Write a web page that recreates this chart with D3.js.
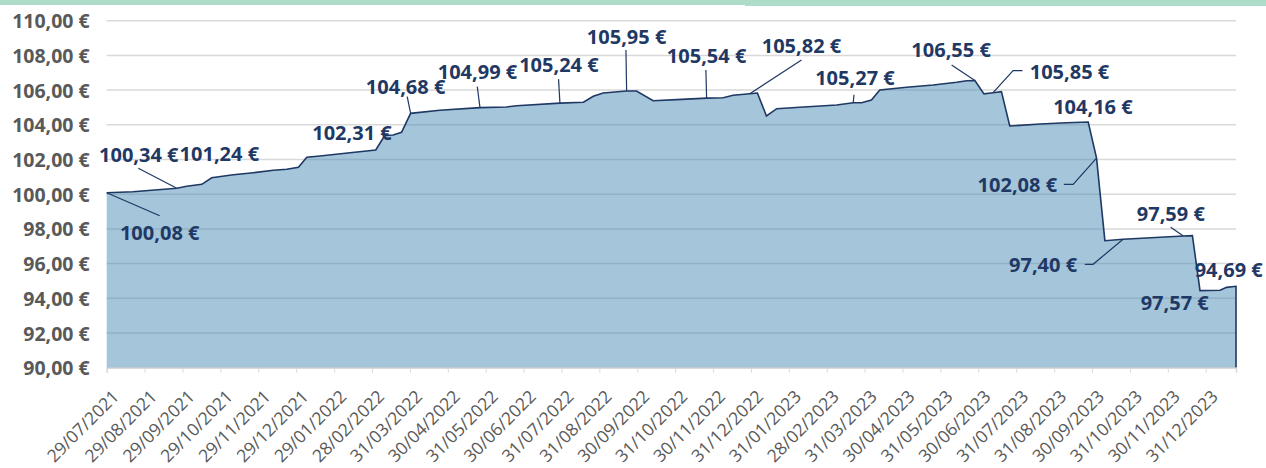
<!DOCTYPE html>
<meta charset="utf-8">
<style>
body { margin: 0; background: #fff; font-family: "Open Sans", sans-serif; }
.grid line { stroke: #d9d9d9; stroke-width: 1.5px; }
.yaxis text { fill: #595959; font-family: "Open Sans", sans-serif; font-size: 19.5px; font-weight: 700; }
.xaxis text { fill: #595959; font-family: "Open Sans", sans-serif; font-size: 17.5px; }
.xaxis line { stroke: #d9d9d9; }
.area { fill: #3d83b0; fill-opacity: 0.47; }
.line { fill: none; stroke: #1f3864; stroke-width: 1.6px; }
.leader { fill: none; stroke: #1f3864; stroke-width: 1.2px; }
.lbl { fill: #1f3864; font-family: "Open Sans", sans-serif; font-size: 20px; font-weight: 700; }
</style>
<body>
<script src="https://cdn.jsdelivr.net/npm/d3@7"></script>
<script>
// position of each point in months after 29/07/2021, and the price
var monthPos = [0, 0.69, 1.85, 2.11, 2.51, 2.77, 3.34, 3.87, 4.40, 4.75,
  5.06, 5.28, 5.63, 6.42, 7.10, 7.34, 7.56, 7.78, 8.02, 8.79,
  9.85, 10.55, 10.82, 11.96, 12.58, 12.84, 13.10, 13.72, 13.98, 14.42,
  15.04, 15.83, 16.27, 16.53, 16.97, 17.17, 17.41, 17.68, 18.29, 19.26,
  19.70, 19.92, 20.18, 20.40, 21.11, 21.81, 22.43, 22.69, 22.91, 23.15,
  23.39, 23.61, 23.83, 24.63, 25.33, 25.90, 26.12, 26.34, 26.82, 28.41,
  28.65, 28.85, 29.38, 29.55, 29.80];
var prices = [100.08, 100.14, 100.34, 100.46, 100.57, 100.95, 101.12, 101.24, 101.38, 101.44,
  101.55, 102.13, 102.20, 102.39, 102.55, 103.39, 103.41, 103.57, 104.66, 104.84,
  104.99, 105.03, 105.10, 105.25, 105.30, 105.64, 105.83, 105.95, 105.95, 105.39,
  105.45, 105.54, 105.56, 105.70, 105.79, 105.83, 104.51, 104.93, 105.01, 105.14,
  105.27, 105.27, 105.43, 106.01, 106.16, 106.29, 106.45, 106.54, 106.55, 105.78,
  105.85, 105.91, 103.93, 104.05, 104.12, 104.16, 102.08, 97.32, 97.40, 97.59,
  97.61, 94.44, 94.46, 94.63, 94.69];

var tickLabels = ["29/07/2021", "29/08/2021", "29/09/2021", "29/10/2021", "29/11/2021",
  "29/12/2021", "29/01/2022", "28/02/2022", "31/03/2022", "30/04/2022", "31/05/2022",
  "30/06/2022", "31/07/2022", "31/08/2022", "30/09/2022", "31/10/2022", "30/11/2022",
  "31/12/2022", "31/01/2023", "28/02/2023", "31/03/2023", "30/04/2023", "31/05/2023",
  "30/06/2023", "31/07/2023", "31/08/2023", "30/09/2023", "31/10/2023", "30/11/2023",
  "31/12/2023"];

// data labels: which point they belong to and their text
var labelIdx = [0, 2, 7, 13, 18, 20, 23, 27, 31, 34, 40, 48, 50, 55, 56, 58, 59, 61, 64];
var labelText = ["100,08 €", "100,34 €", "101,24 €", "102,31 €", "104,68 €", "104,99 €",
  "105,24 €", "105,95 €", "105,54 €", "105,82 €", "105,27 €", "106,55 €", "105,85 €",
  "104,16 €", "102,08 €", "97,40 €", "97,59 €", "97,57 €", "94,69 €"];
// label placement (offset of text centre from point) and leader line bends
var labelPlace = [
  {dx: 53, dy: 40, lead: [[53, 23]]},
  {dx: -38, dy: -34, lead: [[-38.5, -20]]},
  {dx: -34, dy: -19, lead: []},
  {dx: 2, dy: -20, lead: []},
  {dx: -5, dy: -27, lead: [[-3.4, -16.7]]},
  {dx: -2.5, dy: -36, lead: [[-2.7, -21]]},
  {dx: -1, dy: -38, lead: [[-1.4, -24]]},
  {dx: 0, dy: -54.4, lead: [[-0.7, -41]]},
  {dx: 0, dy: -42, lead: [[-0.7, -28]]},
  {dx: 51.7, dy: -47.7, lead: [[51.7, -33.7]]},
  {dx: 1.7, dy: -25, lead: [[0.7, -8]]},
  {dx: -23.8, dy: -30.6, lead: [[-23.3, -15.6]]},
  {dx: 76.4, dy: -21, lead: [[20, -22], [29.4, -22]]},
  {dx: 4.7, dy: -15.3, lead: []},
  {dx: -79.2, dy: 26.2, lead: [[-23.4, 26.2], [-32.7, 26.2]]},
  {dx: -80, dy: 25.7, lead: [[-30, 25], [-38.3, 25]]},
  {dx: -12.5, dy: -22.7, lead: [[-12.6, -8.7]]},
  {dx: -25.3, dy: 12.5, lead: []},
  {dx: -7.3, dy: -16.3, lead: []}
];

var width = 1266, height = 468;
var data = monthPos.map(function(m, i) { return {m: m, v: prices[i]}; });

var x = d3.scaleLinear().domain([0, 29.8]).range([106.7, 1236]);
var y = d3.scaleLinear().domain([90, 110]).range([367.7, 20.7]);

var svg = d3.select("body").append("svg")
    .attr("width", width)
    .attr("height", height);

// green band along the top edge
svg.append("rect").attr("x", 0).attr("y", 0).attr("width", 745).attr("height", 5).attr("fill", "#addcc9");
svg.append("rect").attr("x", 745).attr("y", 0).attr("width", width - 745).attr("height", 6).attr("fill", "#addcc9");

// gridlines
svg.append("g")
    .attr("class", "grid")
  .selectAll("line")
    .data(y.ticks(10))
  .enter().append("line")
    .attr("x1", x(0)).attr("x2", x(29.8))
    .attr("y1", function(d) { return y(d); })
    .attr("y2", function(d) { return y(d); });

// area and line
var area = d3.area()
    .x(function(d) { return x(d.m); })
    .y0(y(90))
    .y1(function(d) { return y(d.v); });
var line = d3.line()
    .x(function(d) { return x(d.m); })
    .y(function(d) { return y(d.v); });

svg.append("path").datum(data).attr("class", "area").attr("d", area);
var last = data[data.length - 1];
svg.append("path").datum(data.concat([{m: last.m, v: 90}]))
    .attr("class", "line").attr("d", line);

// y axis
svg.append("g")
    .attr("class", "yaxis")
    .attr("transform", "translate(" + x(0) + ",0)")
    .call(d3.axisLeft(y).ticks(10).tickSize(0).tickPadding(17)
      .tickFormat(function(d) { return d.toFixed(2).replace(".", ",") + " €"; }))
    .call(function(g) { g.select(".domain").remove(); })
    .selectAll("text").attr("dy", "0.36em");

// x axis
var xa = svg.append("g")
    .attr("class", "xaxis")
    .attr("transform", "translate(0," + y(90) + ")")
    .call(d3.axisBottom(x).tickValues(d3.range(tickLabels.length)).tickSize(5)
      .tickFormat(function(i) { return tickLabels[i]; }));
xa.select(".domain").attr("stroke", "#d9d9d9").attr("stroke-width", 1.5);
xa.selectAll("text")
    .attr("text-anchor", "end")
    .attr("x", 0).attr("y", 0).attr("dy", "0.72em")
    .attr("transform", "translate(4,21) rotate(-45)");

// data labels with leader lines
var ann = svg.append("g");
labelIdx.forEach(function(idx, k) {
  var d = data[idx], px = x(d.m), py = y(d.v), p = labelPlace[k];
  if (p.lead.length) {
    var pts = [[px, py]].concat(p.lead.map(function(o) { return [px + o[0], py + o[1]]; }));
    ann.append("path").attr("class", "leader").attr("d", d3.line()(pts));
  }
  ann.append("text")
      .attr("class", "lbl")
      .attr("text-anchor", "middle")
      .attr("x", px + p.dx)
      .attr("y", py + p.dy)
      .attr("dy", "0.36em")
      .text(labelText[k]);
});
</script>
</body>
